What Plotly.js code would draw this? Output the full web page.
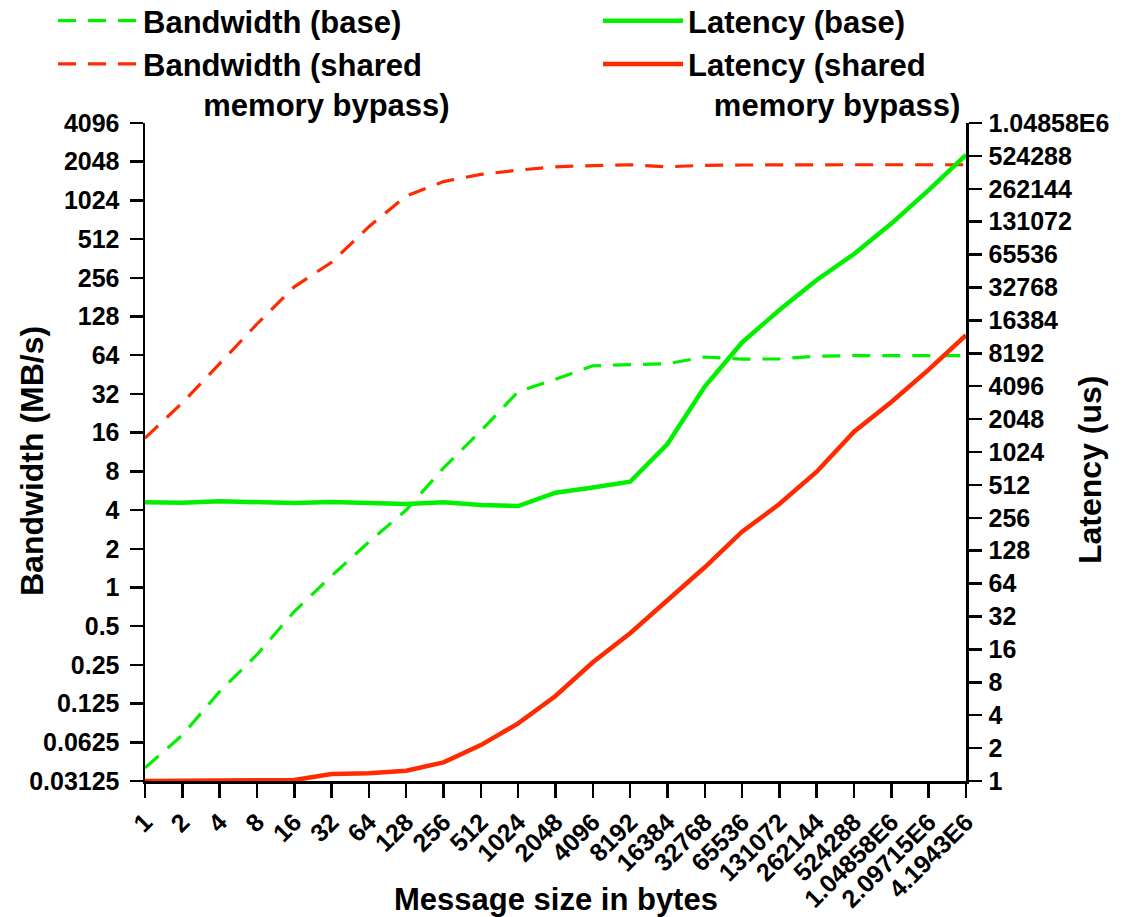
<!DOCTYPE html>
<html>
<head>
<meta charset="utf-8">
<script src="https://cdn.plot.ly/plotly-3.0.1.min.js"></script>
<style>html,body{margin:0;padding:0;background:#fff;}#chart{width:1129px;height:917px;}</style>
</head>
<body>
<div id="chart"></div>
<script>
// Message sizes (categories)
const sizeLabels = ["1","2","4","8","16","32","64","128","256","512","1024","2048","4096","8192","16384","32768","65536","131072","262144","524288","1.04858E6","2.09715E6","4.1943E6"];

// Bandwidth (MB/s), left axis
const bwBase   = [0.0395,0.071,0.155,0.30,0.65,1.23,2.26,4.0,8.5,16.5,33.4,41.6,53,54,55,62,59.6,60,63,63.5,63.5,63.5,63.5];
const bwShared = [14.5,27.3,55,112,218,338,640,1110,1435,1630,1760,1870,1910,1940,1870,1920,1930,1940,1940,1940,1940,1940,1940];

// Latency (us), right axis
const latBase   = [355,352,362,352,350,357,352,342,355,335,328,434,485,547,1210,4060,10300,20400,38400,66400,126000,255000,535000];
const latShared = [1.0,1.0,1.0,1.0,1.02,1.16,1.18,1.24,1.48,2.13,3.37,6.0,12.2,22.5,45.3,90.3,191,342,676,1570,2940,5800,12000];

// Tick labels
const bwTickVals = [0.03125,0.0625,0.125,0.25,0.5,1,2,4,8,16,32,64,128,256,512,1024,2048,4096];
const bwTickText = ["0.03125","0.0625","0.125","0.25","0.5","1","2","4","8","16","32","64","128","256","512","1024","2048","4096"];
const latTickVals = [1,2,4,8,16,32,64,128,256,512,1024,2048,4096,8192,16384,32768,65536,131072,262144,524288,1048576];
const latTickText = ["1","2","4","8","16","32","64","128","256","512","1024","2048","4096","8192","16384","32768","65536","131072","262144","524288","1.04858E6"];

const GREEN = '#00f000';
const RED = '#ff2a00';
const FONT = '"Liberation Sans", Arial, sans-serif';
const NB = '\u00a0';

const traces = [
  {x: sizeLabels, y: bwBase, name: 'Bandwidth (base)', type: 'scatter', mode: 'lines',
   line: {color: GREEN, width: 3.2, dash: '18px,12px'}, yaxis: 'y', legend: 'legend'},
  {x: sizeLabels, y: bwShared, name: 'Bandwidth (shared<br>' + NB.repeat(7) + 'memory bypass)', type: 'scatter', mode: 'lines',
   line: {color: RED, width: 3.2, dash: '18px,12px'}, yaxis: 'y', legend: 'legend'},
  {x: sizeLabels, y: latBase, name: 'Latency (base)', type: 'scatter', mode: 'lines',
   line: {color: GREEN, width: 4.5}, yaxis: 'y2', legend: 'legend2'},
  {x: sizeLabels, y: latShared, name: 'Latency (shared<br>' + NB.repeat(3) + 'memory bypass)', type: 'scatter', mode: 'lines',
   line: {color: RED, width: 4.5}, yaxis: 'y2', legend: 'legend2'}
];

const tickFont = {family: FONT, size: 25, color: '#000', weight: 700};
const xTitleFont = {family: FONT, size: 31, color: '#000', weight: 700};
const yTitleFont = {family: FONT, size: 32, color: '#000', weight: 700};
const legendFont = {family: FONT, size: 31, color: '#000', weight: 700};

const legendTop = (781 + 6) / 658;

const layout = {
  width: 1129, height: 917,
  margin: {l: 145, r: 163, t: 123, b: 136, autoexpand: false},
  paper_bgcolor: '#fff', plot_bgcolor: '#fff',
  font: {family: FONT, color: '#000'},
  xaxis: {
    type: 'category', range: [0, 22], showgrid: false, zeroline: false,
    tickmode: 'array', tickvals: sizeLabels, ticktext: sizeLabels,
    showline: true, linecolor: '#000', linewidth: 2.5,
    ticks: 'outside', ticklen: 14, tickwidth: 2.5, tickcolor: '#000',
    tickangle: -45, tickfont: tickFont, automargin: false
  },
  yaxis: {
    type: 'log', range: [Math.log10(0.03125), Math.log10(4096)],
    tickvals: bwTickVals, ticktext: bwTickText, showgrid: false, zeroline: false,
    showline: true, linecolor: '#000', linewidth: 2.5,
    ticks: 'outside', ticklen: 13, tickwidth: 2.5, tickcolor: '#000',
    tickfont: tickFont, automargin: false, ticklabelstandoff: 5
  },
  yaxis2: {
    type: 'log', range: [0, Math.log10(1048576)], overlaying: 'y', side: 'right',
    tickvals: latTickVals, ticktext: latTickText, showgrid: false, zeroline: false,
    showline: true, linecolor: '#000', linewidth: 2.5,
    ticks: 'outside', ticklen: 13, tickwidth: 2.5, tickcolor: '#000',
    tickfont: tickFont, automargin: false, ticklabelstandoff: 2
  },
  legend: {
    xref: 'container', yref: 'paper', x: 53/1129, y: legendTop, xanchor: 'left', yanchor: 'top',
    font: legendFont, bgcolor: 'rgba(0,0,0,0)',
    borderwidth: 0, valign: 'top', itemwidth: 80, tracegroupgap: 0
  },
  legend2: {
    xref: 'container', yref: 'paper', x: 598/1129, y: legendTop, xanchor: 'left', yanchor: 'top',
    font: legendFont, bgcolor: 'rgba(0,0,0,0)',
    borderwidth: 0, valign: 'top', itemwidth: 80, tracegroupgap: 0
  },
  showlegend: true,
  annotations: [
    {text: 'Bandwidth (MB/s)', xref: 'paper', yref: 'paper', x: (32-145)/821, y: (781-461)/658,
     xanchor: 'center', yanchor: 'middle', textangle: -90, showarrow: false, font: yTitleFont},
    {text: 'Latency (us)', xref: 'paper', yref: 'paper', x: (1090-145)/821, y: (781-470)/658,
     xanchor: 'center', yanchor: 'middle', textangle: -90, showarrow: false, font: yTitleFont},
    {text: 'Message size in bytes', xref: 'paper', yref: 'paper', x: 0.5, y: -(899-781)/658,
     xanchor: 'center', yanchor: 'middle', showarrow: false, font: xTitleFont}
  ]
};

Plotly.newPlot('chart', traces, layout, {displayModeBar: false, staticPlot: true});
</script>
</body>
</html>
